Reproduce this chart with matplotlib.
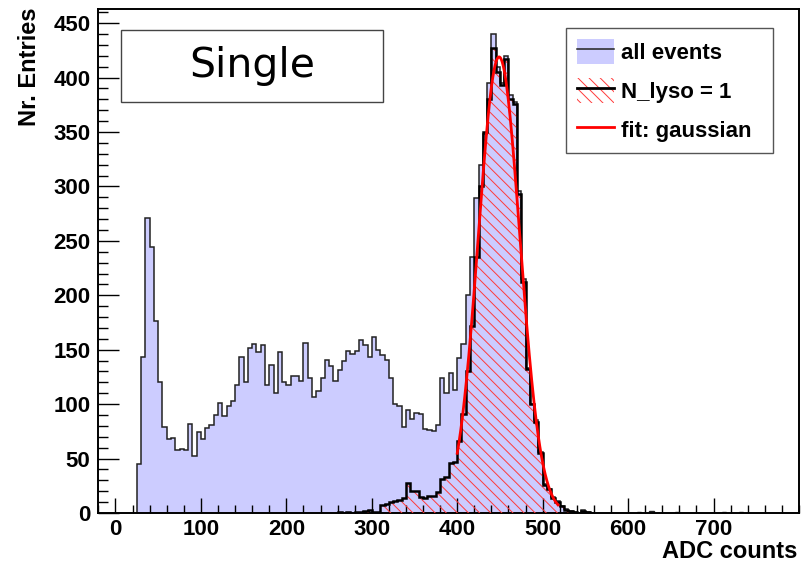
import numpy as np
import matplotlib
matplotlib.use("Agg")
import matplotlib.pyplot as plt
from matplotlib.patches import Patch, Rectangle
from matplotlib.lines import Line2D
from matplotlib.ticker import MultipleLocator, FixedLocator

# ---------------- data ----------------
bin_width = 5
all_start = 25
all_events = [45, 143, 271, 244, 176, 120, 79, 68, 69, 58, 59, 58, 82, 52,
              74, 68, 78, 81, 90, 101, 89, 98, 103, 118, 143, 120, 152, 155,
              148, 154, 118, 136, 110, 148, 120, 118, 126, 126, 121, 156, 124,
              107, 112, 124, 141, 135, 121, 131, 140, 149, 146, 149, 159, 154,
              143, 162, 150, 145, 141, 124, 100, 98, 79, 95, 86, 92, 91, 77,
              76, 75, 81, 124, 110, 129, 113, 142, 155, 200, 235, 289, 320,
              348, 395, 440, 410, 395, 420, 384, 378, 296, 215, 133, 100, 85,
              56, 27, 22, 15, 11, 6, 4, 2, 1, 0, 3, 1, 0]
tail_adc = [610, 625, 655, 710, 730]
tail_counts = [1, 2, 1, 1, 1]

lyso_start = 260
n_lyso = [1, 0, 1, 0, 1, 1, 2, 3, 1, 1, 7, 8, 10, 11, 12, 14, 28, 20, 20, 15,
          14, 16, 16, 19, 31, 33, 46, 47, 66, 91, 130, 172, 235, 300, 350, 380,
          427, 405, 393, 417, 380, 376, 293, 212, 132, 100, 84, 55, 26, 22, 14,
          10, 6, 3, 2, 1, 0, 2, 1, 0]

fit_amp = 419.0
fit_mean = 449.0
fit_sigma = 24.3
fit_range = (400, 518)

x_ticks = [0, 100, 200, 300, 400, 500, 600, 700]
y_ticks = [0, 50, 100, 150, 200, 250, 300, 350, 400, 450]

# ---------------- figure ----------------
plt.rcParams['hatch.linewidth'] = 0.7
fig = plt.figure(figsize=(8.1, 5.65), dpi=100)
ax = fig.add_axes([97.5 / 810, 1 - 513 / 565, (799 - 97.5) / 810, (513 - 9) / 565])

tick_font = {'family': ['Liberation Sans', 'DejaVu Sans'], 'weight': 'bold', 'size': 16}
label_font = {'family': ['Liberation Sans', 'DejaVu Sans'], 'weight': 'bold', 'size': 17}

all_vals = np.array(all_events, dtype=float)
all_edges = all_start + bin_width * np.arange(len(all_vals) + 1)
tail_vals = np.array(tail_counts, dtype=float)

lyso_vals = np.array(n_lyso, dtype=float)
lyso_edges = lyso_start + bin_width * np.arange(len(lyso_vals) + 1)

blue = '#ccccff'
hatch_col = '#ff3a3a'
# all events: filled + outline
ax.stairs(all_vals, all_edges, fill=True, color=blue, zorder=1)
ax.stairs(all_vals, all_edges, fill=False, color='#222222', lw=1.1, zorder=2)
for a, c in zip(tail_adc, tail_vals):
    ax.stairs([c], [a, a + bin_width], fill=True, color=blue, zorder=1)
    ax.stairs([c], [a, a + bin_width], fill=False, color='#222222', lw=1.0, zorder=2)

# N_lyso = 1 : hatched red + thick black outline
ax.stairs(lyso_vals, lyso_edges, fill=True, facecolor='none', edgecolor=hatch_col,
          hatch='\\\\\\', lw=0, zorder=3)
ax.stairs(lyso_vals, lyso_edges, fill=False, color='black', lw=1.8, zorder=4)

# gaussian fit
xf = np.linspace(fit_range[0], fit_range[1], 400)
yf = fit_amp * np.exp(-0.5 * ((xf - fit_mean) / fit_sigma) ** 2)
ax.plot(xf, yf, color='red', lw=2.0, zorder=5)

ax.set_xlim(-21, 800)
ax.set_ylim(0, 463)

ax.xaxis.set_major_locator(FixedLocator(x_ticks))
ax.xaxis.set_minor_locator(MultipleLocator(20))
ax.yaxis.set_major_locator(FixedLocator(y_ticks))
ax.yaxis.set_minor_locator(MultipleLocator(10))

ax.tick_params(axis='x', which='major', direction='in', length=11, width=1.0, pad=4)
ax.tick_params(axis='x', which='minor', direction='in', length=5.5, width=1.0)
ax.tick_params(axis='y', which='major', direction='in', length=15, width=1.0, pad=5)
ax.tick_params(axis='y', which='minor', direction='in', length=7.5, width=1.0)
ax.set_xticklabels([str(v) for v in x_ticks], fontdict=tick_font)
ax.set_yticklabels([str(v) for v in y_ticks], fontdict=tick_font)
for s in ax.spines.values():
    s.set_linewidth(1.4)

fig.text(797 / 810, 1 - 551 / 565, 'ADC counts', ha='right', va='center', **label_font)
fig.text(30 / 810, 1 - 7 / 565, 'Nr. Entries', ha='center', va='top', rotation=90, **label_font)

# "Single" box
ax.add_patch(Rectangle((0.0328, 0.8155), 0.3746, 0.1425, transform=ax.transAxes,
                       facecolor='white', edgecolor='#444444', lw=1.0, zorder=6))
ax.text(0.220, 0.887, 'Single', transform=ax.transAxes, ha='center', va='center',
        fontsize=29.5, family=['DejaVu Sans'], zorder=7)

# legend
h1 = (Patch(facecolor=blue, edgecolor='none'), Line2D([], [], color='#222222', lw=1.1))
h2 = (Patch(facecolor='white', edgecolor=hatch_col, hatch='\\\\\\', lw=0),
      Line2D([], [], color='black', lw=2.0))
h3 = Line2D([], [], color='red', lw=2.0)
leg = ax.legend([h1, h2, h3], ['all events', 'N_lyso = 1', 'fit: gaussian'],
                loc='upper left', bbox_to_anchor=(0.668, 0.71, 0.295, 0.252),
                mode='expand', borderaxespad=0,
                prop={'family': ['Liberation Sans', 'DejaVu Sans'], 'weight': 'bold', 'size': 16},
                handlelength=1.66, handleheight=1.35, handletextpad=0.3,
                labelspacing=0.62, borderpad=0.5, fancybox=False, framealpha=1)
leg.get_frame().set_edgecolor('#555555')
leg.get_frame().set_linewidth(1.0)
leg.set_zorder(8)

fig.savefig('out.png', dpi=100)
